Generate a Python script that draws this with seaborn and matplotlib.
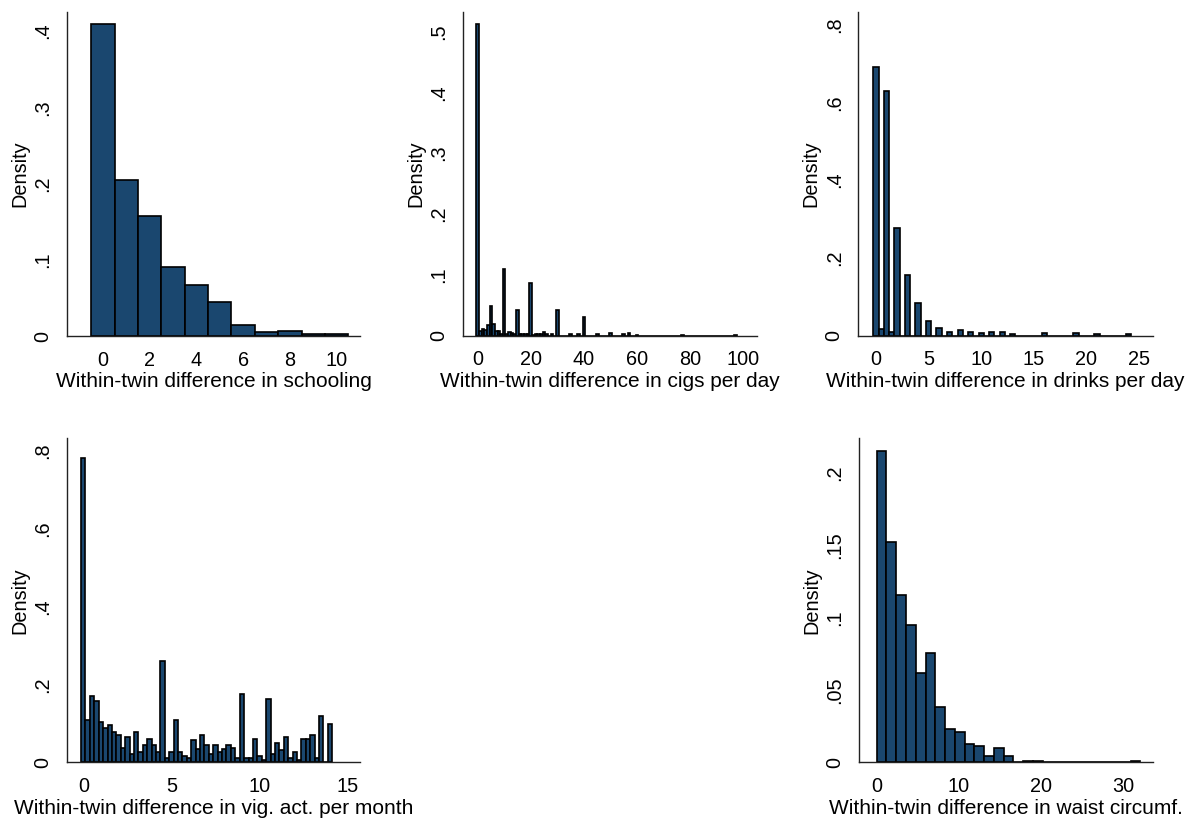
import numpy as np
import pandas as pd
import matplotlib
matplotlib.use("Agg")
import matplotlib.pyplot as plt
import seaborn as sns
from matplotlib.ticker import FuncFormatter

sns.set_style("white")
plt.rcParams['font.family'] = ['Liberation Sans', 'DejaVu Sans']
plt.rcParams['text.color'] = 'black'
plt.rcParams['axes.labelcolor'] = 'black'
plt.rcParams['xtick.color'] = 'black'
plt.rcParams['ytick.color'] = 'black'

# ---------------- data (bin centres and densities) -------------
school_x = [0, 1, 2, 3, 4, 5, 6, 7, 8, 9, 10]
school_d = [0.409, 0.204, 0.158, 0.091, 0.067, 0.044, 0.014, 0.005, 0.007, 0.003, 0.003]

cigs_x = [0, 1, 2, 3, 4, 5, 6, 7, 8, 9, 10, 11, 12, 13, 14, 15, 16, 17, 18, 19, 20,
          21, 22, 23, 24, 25, 26, 28, 30, 35, 38, 40, 45, 50, 55, 57, 60, 77, 97]
cigs_d = [0.512, 0.008, 0.011, 0.010, 0.018, 0.048, 0.020, 0.007, 0.007, 0.003, 0.109,
          0.002, 0.006, 0.004, 0.002, 0.043, 0.002, 0.003, 0.003, 0.003, 0.086,
          0.001, 0.002, 0.002, 0.003, 0.006, 0.002, 0.003, 0.043, 0.003, 0.002, 0.031,
          0.003, 0.0044, 0.002, 0.0044, 0.0016, 0.0016, 0.0016]

drinks_x = [0, 0.5, 1, 1.5, 2, 3, 4, 5, 6, 7, 8, 9, 10, 11, 12, 13, 16, 19, 21, 24]
drinks_d = [0.690, 0.018, 0.628, 0.010, 0.277, 0.155, 0.085, 0.038, 0.021, 0.0086,
            0.014, 0.0086, 0.0077, 0.0094, 0.0094, 0.0043, 0.0068, 0.0068, 0.0043, 0.0043]

vig_x = [0, 0.25, 0.5, 0.75, 1, 1.25, 1.5, 1.75, 2, 2.25, 2.5, 2.75, 3, 3.25, 3.5, 3.75,
         4, 4.25, 4.5, 4.75, 5, 5.25, 5.5, 5.75, 6, 6.25, 6.5, 6.75, 7, 7.25, 7.5, 7.75,
         8, 8.25, 8.5, 8.75, 9, 9.25, 9.5, 9.75, 10, 10.25, 10.5, 10.75, 11, 11.25, 11.5,
         11.75, 12, 12.25, 12.5, 12.75, 13, 13.25, 13.5, 14]
vig_d = [0.781, 0.109, 0.169, 0.158, 0.104, 0.087, 0.097, 0.077, 0.070, 0.038, 0.065,
         0.021, 0.077, 0.027, 0.044, 0.060, 0.044, 0.027, 0.261, 0.010, 0.027, 0.109,
         0.027, 0.017, 0.011, 0.056, 0.033, 0.070, 0.044, 0.021, 0.044, 0.027, 0.033,
         0.044, 0.038, 0.011, 0.175, 0.011, 0.011, 0.060, 0.016, 0.006, 0.163, 0.021,
         0.049, 0.032, 0.065, 0.011, 0.027, 0.006, 0.060, 0.060, 0.070, 0.011, 0.119,
         0.098]

waist_bin_index = list(range(27))
waist_d = [0.2152, 0.152, 0.1158, 0.0951, 0.0619, 0.0755, 0.038, 0.0228, 0.0207, 0.0127,
           0.0115, 0.0046, 0.0099, 0.0044, 0.0, 0.0012, 0.0012, 0.0, 0.0, 0.0, 0.0, 0.0,
           0.0, 0.0, 0.0, 0.0, 0.0012]

x_labels = ["Within-twin difference in schooling",
            "Within-twin difference in cigs per day",
            "Within-twin difference in drinks per day",
            "Within-twin difference in vig. act. per month",
            "Within-twin difference in waist circumf."]
y_label = "Density"

# ---------------- style --------------------------------------------------------------
NAVY = "#1a476f"
FS = 14.3
W, H = 1196, 823

fig = plt.figure(figsize=(W / 100, H / 100), dpi=100)


def make_ax(l, t, r, b):
    return fig.add_axes([l / W, 1 - b / H, (r - l) / W, (b - t) / H])


def stata_fmt(v, pos):
    if abs(v) < 1e-12:
        return "0"
    s = f"{v:g}"
    return s.replace("0.", ".", 1) if s.startswith("0.") else s


def draw(ax, centers, dens, width, xlim, ylim, xticks, yticks, xlabel):
    df = pd.DataFrame({"x": np.asarray(centers, float), "d": np.asarray(dens, float)})
    lo = df["x"].min() - width / 2
    hi = df["x"].max() + width / 2
    sns.histplot(data=df, x="x", weights="d", binwidth=width, binrange=(lo, hi),
                 stat="count", ax=ax, color=NAVY, edgecolor="black",
                 linewidth=1.2, alpha=1.0)
    ax.set_xlim(*xlim)
    ax.set_ylim(*ylim)
    ax.set_xticks(xticks)
    ax.set_yticks(yticks)
    ax.yaxis.set_major_formatter(FuncFormatter(stata_fmt))
    for s in ["top", "right"]:
        ax.spines[s].set_visible(False)
    for s in ["left", "bottom"]:
        ax.spines[s].set_color("#222222")
        ax.spines[s].set_linewidth(1.0)
    ax.tick_params(axis="both", direction="out", length=5.5, width=1.0,
                   color="#222222", labelsize=FS, pad=5, labelcolor="black")
    for lab in ax.get_yticklabels():
        lab.set_rotation(90)
        lab.set_va("center")
    ax.set_xlabel(xlabel, fontsize=FS + 0.7, labelpad=2, color="black")
    ax.set_ylabel(y_label, fontsize=FS, labelpad=3, color="black")
    ax.grid(False)


ax1 = make_ax(67, 12, 360, 336)
draw(ax1, school_x, school_d, 1.0, (-1.54, 11.0), (0, 0.425),
     [0, 2, 4, 6, 8, 10], [0, 0.1, 0.2, 0.3, 0.4], x_labels[0])

ax2 = make_ax(462.7, 12, 756.7, 335.7)
draw(ax2, cigs_x, cigs_d, 1.0, (-5.6, 105), (0, 0.532),
     [0, 20, 40, 60, 80, 100], [0, 0.1, 0.2, 0.3, 0.4, 0.5], x_labels[1])

ax3 = make_ax(858.3, 12, 1152.7, 335.7)
draw(ax3, drinks_x, drinks_d, 0.5, (-1.68, 26.3), (0, 0.832),
     [0, 5, 10, 15, 20, 25], [0, 0.2, 0.4, 0.6, 0.8], x_labels[2])

ax4 = make_ax(66.7, 438.3, 360, 762.3)
draw(ax4, vig_x, vig_d, 0.25, (-0.94, 15.7), (0, 0.832),
     [0, 5, 10, 15], [0, 0.2, 0.4, 0.6, 0.8], x_labels[3])

waist_w = 1.189
waist_x = [(i + 0.5) * waist_w for i in waist_bin_index]
ax6 = make_ax(859, 438.3, 1152.7, 762.3)
draw(ax6, waist_x, waist_d, waist_w, (-2.15, 33.6), (0, 0.2237),
     [0, 10, 20, 30], [0, 0.05, 0.1, 0.15, 0.2], x_labels[4])

fig.savefig("out.png", dpi=100, facecolor="white")
